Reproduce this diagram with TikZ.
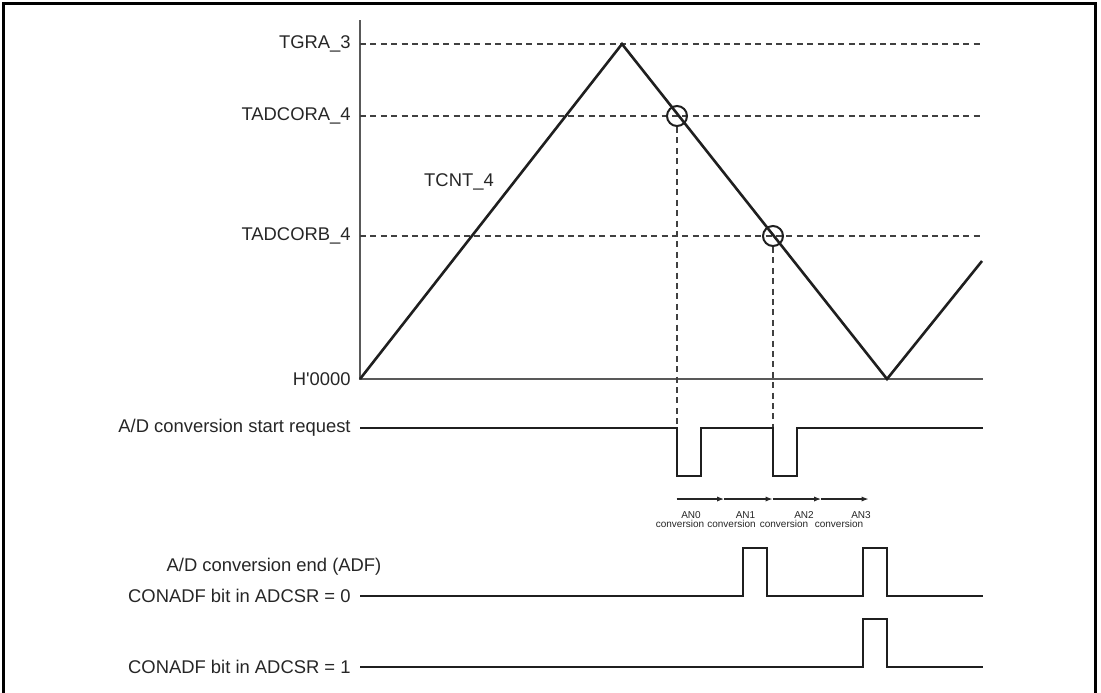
\documentclass[tikz,border=0pt]{standalone}
\usepackage{fontspec}
\setmainfont{Liberation Sans}
\newfontfamily\nolig{Liberation Sans}[Ligatures=TeXOff]
\usetikzlibrary{arrows.meta}
\begin{document}
\begin{tikzpicture}[x=0.5pt,y=-0.5pt,
  lbl/.style={font=\fontsize{9.2}{11}\selectfont, text=black!85, inner sep=0pt},
  small/.style={font=\fontsize{5.0}{6}\selectfont, text=black!85, inner sep=0pt, anchor=base},
  axis/.style={draw=black!65, line width=0.8pt},
  guide/.style={draw=black!75, line width=0.6pt, dash pattern=on 3pt off 2.2pt},
  sig/.style={draw=black!88, line width=1.3pt, line join=miter},
  conv/.style={draw=black!85, line width=0.55pt, -{Latex[length=3.5pt,width=2.6pt]}},
  cmp/.style={draw=black!88, line width=1pt, circle, minimum size=10pt, inner sep=0pt}]
\useasboundingbox (0,0) rectangle (1101,692);
% frame (open at bottom)
\draw[line width=1.6pt] (3.5,720) -- (3.5,3.5) -- (1095.5,3.5) -- (1095.5,720);

% coordinates
\coordinate (o) at (360,379);
\coordinate (top) at (360,20);
\coordinate (xe) at (983,379);
\coordinate (pk) at (622,44);
\coordinate (mn) at (887,379);
\coordinate (re) at (982,261);
\coordinate (ca) at (677,116);
\coordinate (cb) at (773,236);

% axes
\draw[axis] (top) -- (o) -- (xe);

% guide lines
\draw[guide] (360,44) -- (983,44);
\draw[guide] (360,116) -- (983,116);
\draw[guide] (360,236) -- (983,236);

% labels
\node[lbl, anchor=east] (tgra) at (351,44) {TGRA\_3};
\node[lbl, anchor=east] (tadca) at (351,116) {TADCORA\_4};
\node[lbl, anchor=east] (tadcb) at (351,236) {TADCORB\_4};
\node[lbl, anchor=east] (h0) at (351,379) {\nolig H'0000};
\node[lbl] (tcnt) at (459,182) {TCNT\_4};

% counter
\draw[sig] (o) -- (pk) -- (mn) -- (re);

% compare circles
\node[cmp] (cA) at (ca) {};
\node[cmp] (cB) at (cb) {};

% vertical guides to request
\coordinate (ra) at (677,428);
\coordinate (rb) at (773,428);
\draw[guide] (cA.south) -- (ra);
\draw[guide] (cB.south) -- (rb);

% A/D conversion start request
\node[lbl, anchor=east] (req) at (351,428) {A/D conversion start request};
\draw[sig] (req.east) ++(9,0) -- (ra) -- (677,476) -- (701,476) -- (701,428) -- (rb) -- (773,476) -- (797,476) -- (797,428) -- (983,428);

% conversion arrows
\coordinate (a0) at (676.5,499);
\coordinate (a1) at (724,499);
\coordinate (a2) at (772.5,499);
\coordinate (a3) at (821,499);
\coordinate (a4) at (868.5,499);
\draw[conv] (a0) -- (a1);
\draw[conv] (a1) -- (a2);
\draw[conv] (a2) -- (a3);
\draw[conv] (a3) -- (a4);
\node[small] (an0) at (691,518) {AN0};
\node[small] (an1) at (745.5,518) {AN1};
\node[small] (an2) at (804,518) {AN2};
\node[small] (an3) at (861,518) {AN3};
\node[small] (cv0) at (680,527) {conversion};
\node[small] (cv1) at (731.5,527) {conversion};
\node[small] (cv2) at (784,527) {conversion};
\node[small] (cv3) at (839,527) {conversion};

% ADF
\node[lbl] (adf) at (274,567) {A/D conversion end (ADF)};
\node[lbl, anchor=east] (c0) at (351,596) {CONADF bit in ADCSR = 0};
\draw[sig] (c0.east) ++(9,0) -- (743,596) -- (743,548) -- (767,548) -- (767,596) -- (863,596) -- (863,548) -- (887,548) -- (887,596) -- (983,596);
\node[lbl, anchor=east] (c1) at (351,667) {CONADF bit in ADCSR = 1};
\draw[sig] (c1.east) ++(9,0) -- (863,667) -- (863,619) -- (887,619) -- (887,667) -- (983,667);
\end{tikzpicture}
\end{document}
